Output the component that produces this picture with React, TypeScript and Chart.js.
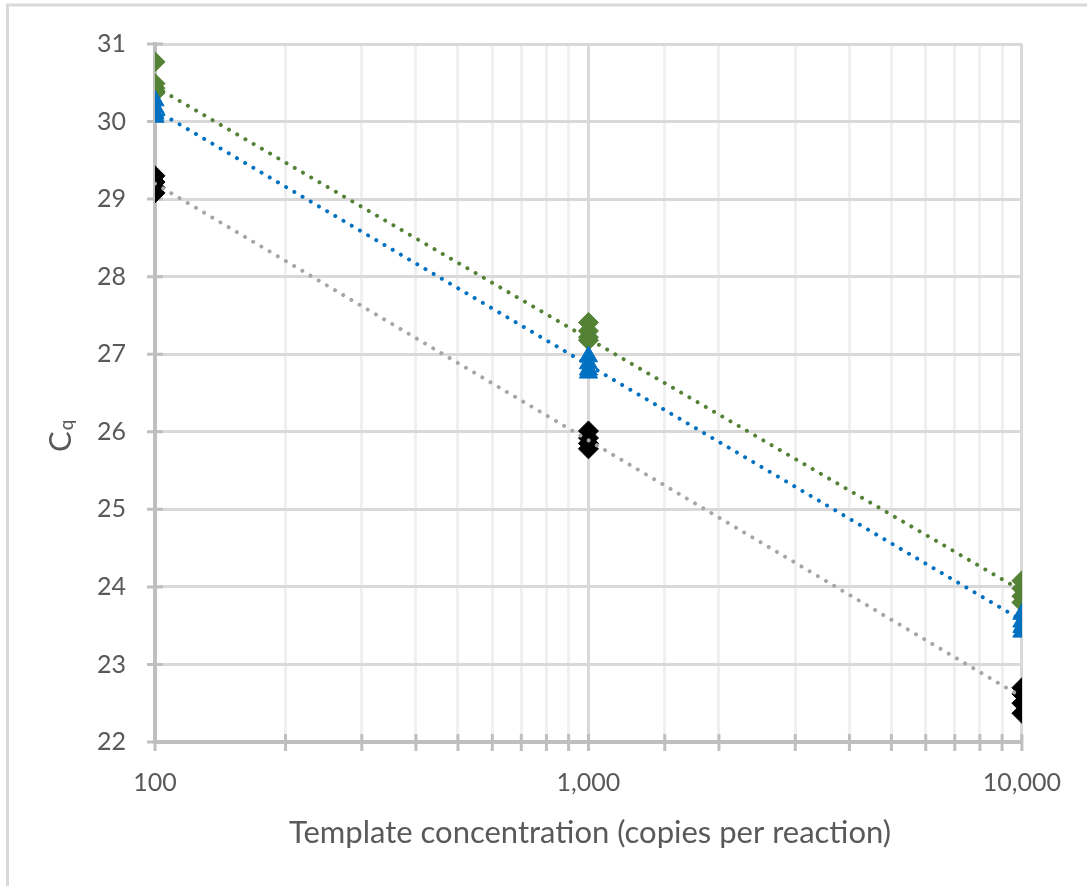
import React, { useEffect, useRef } from 'react';
import { Chart, registerables } from 'chart.js';

Chart.register(...registerables);

// Template concentrations (copies per reaction)
const concentrations = [100, 1000, 10000];

// Cq replicates per concentration
const greenCq = [
  [30.77, 30.49, 30.43, 30.37],
  [27.41, 27.3, 27.22, 27.18],
  [24.08, 23.98, 23.88, 23.8],
];
const blueCq = [
  [30.27, 30.18, 30.1, 30.06],
  [26.97, 26.88, 26.8, 26.76],
  [23.65, 23.55, 23.48, 23.42],
];
const blackCq = [
  [29.3, 29.22, 29.15, 29.08],
  [26.01, 25.92, 25.85, 25.78],
  [22.7, 22.62, 22.5, 22.37],
];

// Logarithmic trendline end values (at 100 and 10,000)
const trendX = [100, 10000];
const greenTrend = [30.45, 23.95];
const blueTrend = [30.15, 23.57];
const grayTrend = [29.2, 22.58];

const yMin = 22;
const yMax = 31;
const xMin = 100;
const xMax = 10000;

const xTitle = 'Template concentration (copies per reaction)';
const yTitleMain = 'C';
const yTitleSub = 'q';

const FONT = 'Lato, "Open Sans", sans-serif';
const TEXT = '#595959';

const isPow10 = (v: number) => {
  const l = Math.log10(v);
  return Math.abs(l - Math.round(l)) < 1e-9;
};

const points = (reps: number[][]) =>
  concentrations.flatMap((c, i) => reps[i].map((v) => ({ x: c, y: v })));
const line = (vals: number[]) => trendX.map((x, i) => ({ x, y: vals[i] }));

const decor = {
  id: 'decor',
  beforeDatasetsDraw(chart: any) {
    const { ctx, chartArea, scales } = chart;
    const x = scales.x;
    const y = scales.y;
    ctx.save();
    ctx.strokeStyle = '#bfbfbf';
    ctx.lineWidth = 3;
    ctx.beginPath();
    y.ticks.forEach((t: any) => {
      const py = y.getPixelForValue(t.value);
      ctx.moveTo(chartArea.left - 8, py);
      ctx.lineTo(chartArea.left + 8, py);
    });
    x.ticks.forEach((t: any) => {
      const px = x.getPixelForValue(t.value);
      ctx.moveTo(px, chartArea.bottom - 8);
      ctx.lineTo(px, chartArea.bottom + 9);
    });
    ctx.stroke();
    ctx.restore();
  },
  afterDraw(chart: any) {
    const { ctx } = chart;
    ctx.save();
    // outer chart border
    ctx.strokeStyle = '#d9d9d9';
    ctx.lineWidth = 3;
    ctx.strokeRect(7.5, 5, 1300, 1000);
    // x title
    ctx.fillStyle = TEXT;
    ctx.font = `31px ${FONT}`;
    ctx.textAlign = 'center';
    ctx.textBaseline = 'alphabetic';
    ctx.fillText(xTitle, 590, 843);
    // y title, rotated, with subscript
    ctx.translate(71, 452);
    ctx.rotate(-Math.PI / 2);
    ctx.textAlign = 'left';
    ctx.font = `31px ${FONT}`;
    ctx.fillText(yTitleMain, 0, 0);
    const w = ctx.measureText(yTitleMain).width;
    ctx.font = `19px ${FONT}`;
    ctx.fillText(yTitleSub, w + 1, 2);
    ctx.restore();
  },
};

export default function App() {
  const ref = useRef<HTMLCanvasElement | null>(null);

  useEffect(() => {
    if (!ref.current) return;
    const dotted = {
      type: 'line' as const,
      pointRadius: 0,
      borderWidth: 4,
      borderDash: [0.01, 9.5],
      borderCapStyle: 'round' as const,
      fill: false,
      showLine: true,
    };
    const chart = new Chart(ref.current, {
      type: 'scatter',
      data: {
        datasets: [
          { ...dotted, label: 'Trend (black)', data: line(grayTrend), borderColor: '#a6a6a6' },
          { ...dotted, label: 'Trend (blue)', data: line(blueTrend), borderColor: '#0070c0' },
          { ...dotted, label: 'Trend (green)', data: line(greenTrend), borderColor: '#548235' },
          {
            label: 'Blue',
            data: points(blueCq),
            pointStyle: 'triangle',
            pointRadius: 10.5,
            backgroundColor: '#0070c0',
            borderColor: '#0070c0',
            borderWidth: 1,
          },
          {
            label: 'Green',
            data: points(greenCq),
            pointStyle: 'rectRot',
            pointRadius: 10,
            backgroundColor: '#548235',
            borderColor: '#548235',
            borderWidth: 1,
          },
          {
            label: 'Black',
            data: points(blackCq),
            pointStyle: 'rectRot',
            pointRadius: 10,
            backgroundColor: '#000000',
            borderColor: '#000000',
            borderWidth: 1,
          },
        ],
      } as any,
      options: {
        animation: false,
        responsive: false,
        layout: { padding: { top: 40, right: 65, left: 0, bottom: 0 } },
        plugins: { legend: { display: false }, tooltip: { enabled: false } },
        scales: {
          x: {
            type: 'logarithmic',
            min: xMin,
            max: xMax,
            afterFit: (s: any) => {
              s.height = 144;
            },
            grid: {
              drawTicks: false,
              lineWidth: 3,
              color: (c: any) => (c.tick && isPow10(c.tick.value) ? '#d9d9d9' : '#f0f0f0'),
            },
            border: { display: true, color: '#bfbfbf', width: 4 },
            ticks: {
              autoSkip: false,
              maxRotation: 0,
              padding: 26,
              color: TEXT,
              font: { family: FONT, size: 25 },
              callback: (v: any) => (isPow10(Number(v)) ? Number(v).toLocaleString('en-US') : ''),
            },
          },
          y: {
            min: yMin,
            max: yMax,
            afterFit: (s: any) => {
              s.width = 155;
            },
            grid: { drawTicks: false, lineWidth: 3, color: '#d9d9d9' },
            border: { display: true, color: '#bfbfbf', width: 4 },
            ticks: {
              stepSize: 1,
              padding: 29,
              color: TEXT,
              font: { family: FONT, size: 25 },
            },
          },
        },
      } as any,
      plugins: [decor],
    });
    return () => chart.destroy();
  }, []);

  return (
    <div style={{ position: 'absolute', left: 0, top: 0, width: 1087, height: 886, background: '#fff' }}>
      <canvas ref={ref} width={1087} height={886} />
    </div>
  );
}
